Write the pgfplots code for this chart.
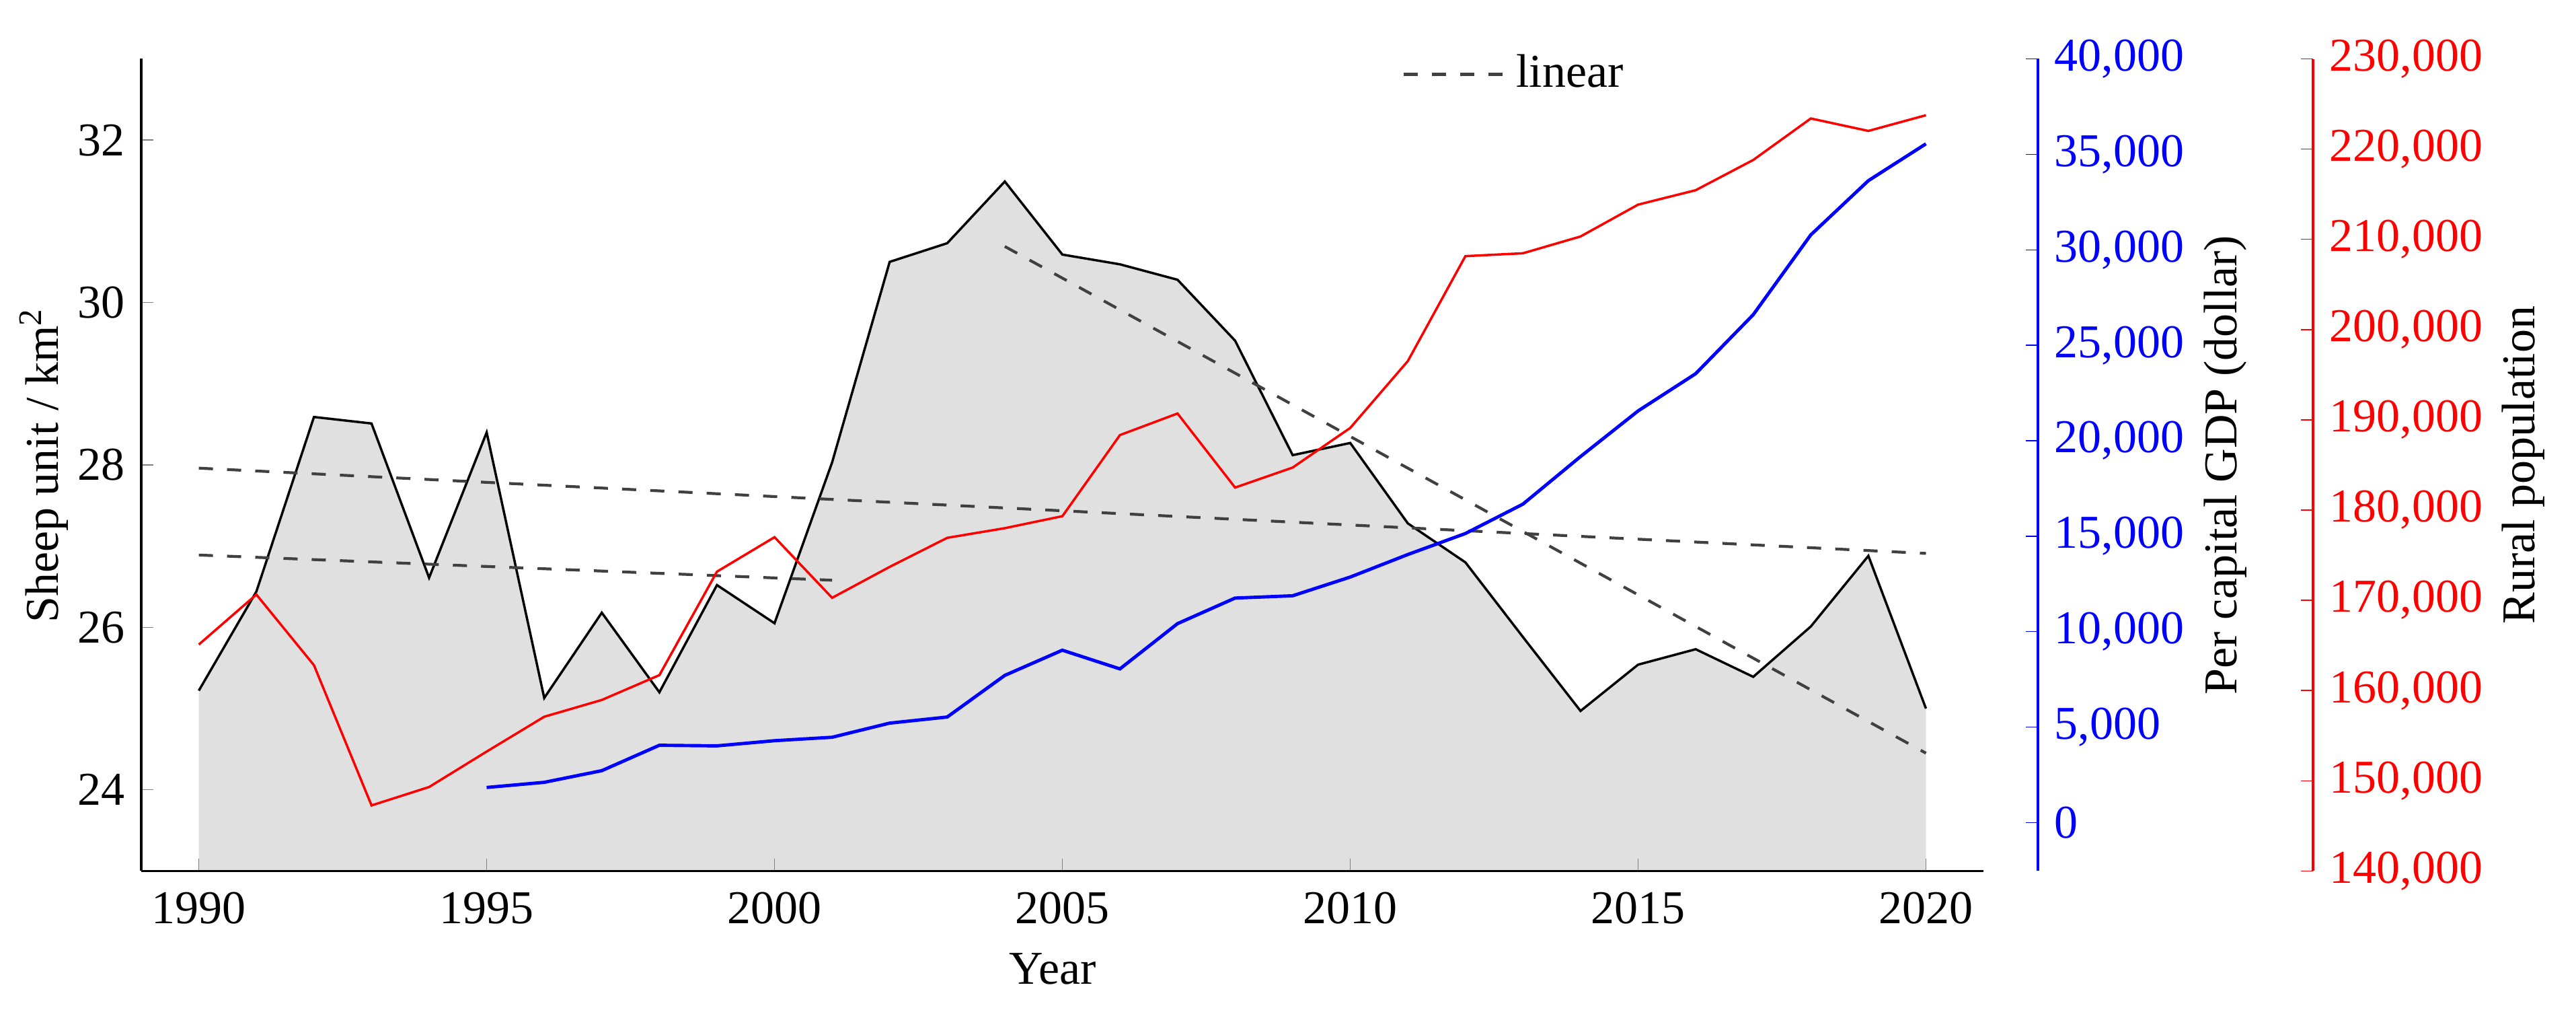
\documentclass[border=0pt]{standalone}
\usepackage{fontspec}
\setmainfont{Liberation Serif}
\usepackage{pgfplots}
\usepackage{pgfplotstable}
\pgfplotsset{compat=1.18}

\definecolor{areagray}{RGB}{224,224,224}
\definecolor{trend}{RGB}{64,64,64}

% sheep density (left axis)
\pgfplotstableread{
year sheep
1990 25.22
1991 26.44
1992 28.59
1993 28.51
1994 26.61
1995 28.40
1996 25.13
1997 26.18
1998 25.20
1999 26.52
2000 26.05
2001 28.03
2002 30.50
2003 30.73
2004 31.49
2005 30.59
2006 30.47
2007 30.28
2008 29.53
2009 28.12
2010 28.27
2011 27.28
2012 26.80
2013 25.88
2014 24.97
2015 25.54
2016 25.73
2017 25.39
2018 26.01
2019 26.88
2020 25.00
}\sheeptab

% per capita GDP (blue axis)
\pgfplotstableread{
year gdp
1995 1840
1996 2110
1997 2720
1998 4050
1999 4020
2000 4290
2001 4470
2002 5210
2003 5530
2004 7710
2005 9030
2006 8050
2007 10420
2008 11760
2009 11880
2010 12860
2011 14040
2012 15140
2013 16680
2014 19170
2015 21560
2016 23510
2017 26600
2018 30780
2019 33620
2020 35550
}\gdptab

% rural population (red axis)
\pgfplotstableread{
year pop
1990 165090
1991 170630
1992 162800
1993 147260
1994 149300
1995 153230
1996 157090
1997 158950
1998 161700
1999 173170
2000 176990
2001 170270
2002 173700
2003 176920
2004 177990
2005 179320
2006 188310
2007 190700
2008 182490
2009 184710
2010 189100
2011 196510
2012 208140
2013 208460
2014 210320
2015 213850
2016 215450
2017 218800
2018 223400
2019 222020
2020 223760
}\poptab

\pgfplotsset{
  common/.style={
    width=391.3pt, height=172.4pt, scale only axis,
    /pgf/number format/assume math mode=true,
    major tick length=2.6pt, tick align=inside,
    every axis plot/.append style={line join=miter},
    clip=false,
  },
}

\begin{document}
\begin{tikzpicture}

% main axis
\begin{axis}[common, clip=true, axis on top,
  xmin=1989, xmax=2021, ymin=23, ymax=33,
  axis x line*=bottom, axis y line*=left,
  axis line style={line width=0.5pt},
  xtick={1990,1995,...,2020}, ytick={24,26,...,32},
  xticklabel style={/pgf/number format/1000 sep={}, anchor=base, yshift=-11.2pt},
  xlabel={Year}, ylabel={Sheep unit / km\textsuperscript{2}},
  x label style={at={(axis description cs:0.4947,-0.1395)}, anchor=base},
  y label style={at={(axis description cs:-0.045,0.5)}, anchor=base},
  legend style={at={(axis description cs:0.6838,0.981)}, anchor=west,
    draw=none, fill=none, inner sep=0pt},
  legend image code/.code={\draw[#1] (0pt,0pt) -- (21.7pt,0pt);},
]
\addplot[fill=areagray, draw=none, forget plot] table[x=year, y=sheep] {\sheeptab} \closedcycle;
\addplot[black, line width=0.5pt, forget plot] table[x=year, y=sheep] {\sheeptab};
\addplot[trend, dashed, line width=0.6pt] coordinates {(1990,27.96) (2020,26.91)};
\addlegendentry{linear}
\addplot[trend, dashed, line width=0.6pt, forget plot] coordinates {(1990,26.89) (2001,26.58)};
\addplot[trend, dashed, line width=0.6pt, forget plot] coordinates {(2004,30.69) (2020,24.45)};
\end{axis}

% per capita GDP axis
\begin{axis}[common, at={(11.57pt,0pt)},
  xmin=1989.947, xmax=2021.947, ymin=-2530, ymax=40000,
  axis x line=none, hide x axis, axis y line*=right,
  y axis line style={blue, line width=0.6pt},
  ytick style={blue},
  ytick={0,5000,...,40000}, scaled y ticks=false,
  yticklabel style={text=blue, /pgf/number format/fixed, /pgf/number format/1000 sep={,}},
  ylabel={Per capital GDP (dollar)},
  y label style={at={(axis description cs:1.1077,0.5)}, anchor=base},
]
\addplot[blue, line width=0.7pt] table[x=year, y=gdp] {\gdptab};
\end{axis}

% rural population axis
\begin{axis}[common, at={(70pt,0pt)},
  xmin=1994.7245, xmax=2026.7245, ymin=140000, ymax=230000,
  axis x line=none, hide x axis, axis y line*=right,
  y axis line style={red, line width=0.6pt},
  ytick style={red},
  ytick={140000,150000,...,230000}, scaled y ticks=false,
  yticklabel style={text=red, /pgf/number format/fixed, /pgf/number format/1000 sep={,}},
  ylabel={Rural population},
  y label style={at={(axis description cs:1.1201,0.5)}, anchor=base},
]
\addplot[red, line width=0.5pt] table[x=year, y=pop] {\poptab};
\end{axis}

\pgfresetboundingbox
\path[use as bounding box] (-30pt,-29.5pt) rectangle (517.14pt,184.9pt);
\end{tikzpicture}
\end{document}
